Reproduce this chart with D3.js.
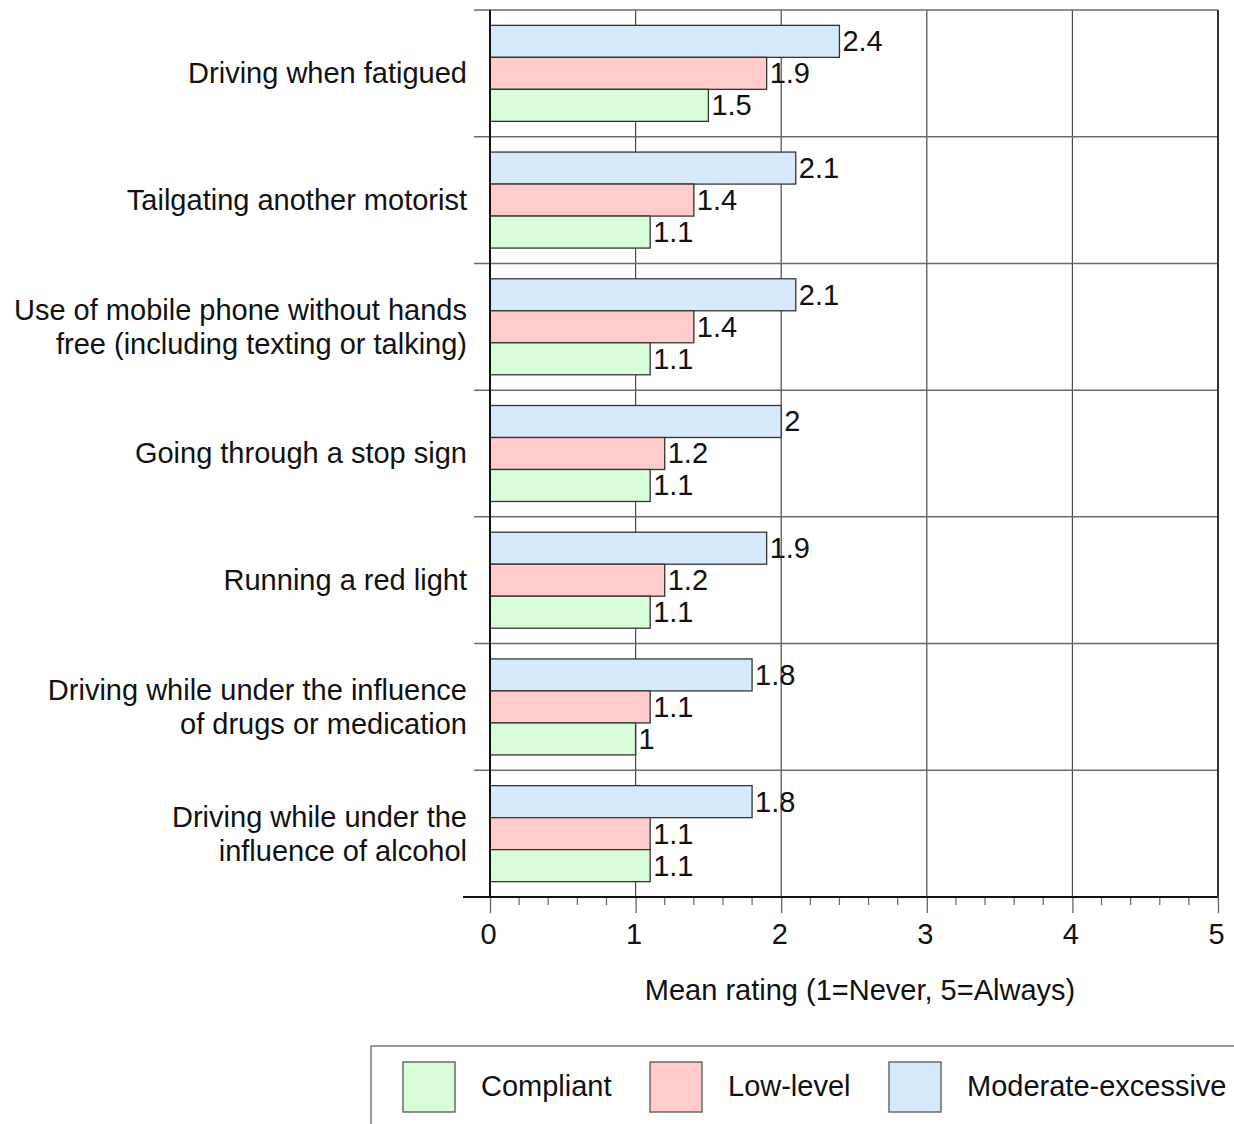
<!DOCTYPE html>
<html>
<head>
<meta charset="utf-8">
<script src="https://cdn.jsdelivr.net/npm/d3@7"></script>
<style>
  html, body { margin: 0; padding: 0; background: #fff; }
  svg { display: block; font-family: "Liberation Sans", Arial, sans-serif; }
</style>
</head>
<body>
<svg id="chart" width="1234" height="1124"></svg>
<script>
// Behaviours, top to bottom; each entry is a list of label lines
const categories = [
  ["Driving when fatigued"],
  ["Tailgating another motorist"],
  ["Use of mobile phone without hands", "free (including texting or talking)"],
  ["Going through a stop sign"],
  ["Running a red light"],
  ["Driving while under the influence", "of drugs or medication"],
  ["Driving while under the", "influence of alcohol"]
];
const seriesNames = ["Moderate-excessive", "Low-level", "Compliant"];
const moderateExcessive = [2.4, 2.1, 2.1, 2, 1.9, 1.8, 1.8];
const lowLevel          = [1.9, 1.4, 1.4, 1.2, 1.2, 1.1, 1.1];
const compliant         = [1.5, 1.1, 1.1, 1.1, 1.1, 1, 1.1];
const xTicks = [0, 1, 2, 3, 4, 5];
const legendOrder = ["Compliant", "Low-level", "Moderate-excessive"];
const colors = {
  "Moderate-excessive": "#d7eafd",
  "Low-level": "#ffcbcb",
  "Compliant": "#d8fdd8"
};
const seriesValues = {
  "Moderate-excessive": moderateExcessive,
  "Low-level": lowLevel,
  "Compliant": compliant
};

const FONT = 29;
const svg = d3.select("#chart");
const plotLeft = 490, plotRight = 1218, plotTop = 10, plotBottom = 897;

const x = d3.scaleLinear().domain([0, 5]).range([plotLeft, plotRight]);
const y = d3.scaleBand().domain(d3.range(categories.length)).range([plotTop, plotBottom]);
const inner = d3.scaleBand().domain(seriesNames)
  .range([0, y.bandwidth()]).paddingOuter(0.48).paddingInner(0);

// Vertical gridlines
svg.append("g").selectAll("line").data(xTicks.slice(1)).join("line")
  .attr("x1", d => x(d)).attr("x2", d => x(d))
  .attr("y1", plotTop).attr("y2", plotBottom)
  .attr("stroke", "#4a4a4a").attr("stroke-width", 1.2);

// Category separators (incl. top border) with small left ticks
const bounds = d3.range(categories.length).map(i => y(i));
svg.append("g").selectAll("line").data(bounds).join("line")
  .attr("x1", plotLeft - 16).attr("x2", plotRight)
  .attr("y1", d => d).attr("y2", d => d)
  .attr("stroke", "#6a6a6a").attr("stroke-width", 1.5);

// Bars
const groups = svg.append("g").selectAll("g").data(categories).join("g")
  .attr("transform", (d, i) => `translate(0,${y(i)})`);

seriesNames.forEach(s => {
  groups.append("rect")
    .attr("x", x(0))
    .attr("y", inner(s))
    .attr("width", (d, i) => x(seriesValues[s][i]) - x(0))
    .attr("height", inner.bandwidth())
    .attr("fill", colors[s])
    .attr("stroke", "#333")
    .attr("stroke-width", 1.3);
  groups.append("text")
    .attr("x", (d, i) => x(seriesValues[s][i]) + 3)
    .attr("y", inner(s) + inner.bandwidth() / 2 + 10)
    .attr("font-size", FONT)
    .attr("fill", "#111")
    .text((d, i) => seriesValues[s][i]);
});

// Category labels
groups.each(function(lines) {
  const g = d3.select(this);
  const lh = 34;
  const cy = y.bandwidth() / 2 - (lines.length - 1) * lh / 2;
  lines.forEach((ln, k) => {
    g.append("text")
      .attr("x", 467)
      .attr("y", cy + k * lh + 10)
      .attr("text-anchor", "end")
      .attr("font-size", FONT)
      .attr("fill", "#111")
      .text(ln);
  });
});

// Left axis line
svg.append("line")
  .attr("x1", plotLeft).attr("x2", plotLeft).attr("y1", plotTop).attr("y2", plotBottom)
  .attr("stroke", "#111").attr("stroke-width", 2);

// Bottom axis with minor ticks
const minor = d3.range(0, 5.0001, 0.2).filter(v => Math.abs(v - Math.round(v)) > 1e-6);
svg.append("g").selectAll("line").data(minor).join("line")
  .attr("x1", d => x(d)).attr("x2", d => x(d))
  .attr("y1", plotBottom).attr("y2", plotBottom + 8)
  .attr("stroke", "#666").attr("stroke-width", 1.2);

const axis = d3.axisBottom(x).tickValues(xTicks).tickSize(16).tickPadding(10)
  .tickFormat(d3.format("d"));
const ax = svg.append("g").attr("transform", `translate(0,${plotBottom})`).call(axis);
ax.select(".domain").remove();
ax.selectAll(".tick line").attr("stroke", "#666").attr("stroke-width", 1.3);
ax.selectAll(".tick text").attr("font-size", FONT).attr("fill", "#111")
  .attr("font-family", "Liberation Sans, Arial, sans-serif")
  .attr("dx", -2);
svg.append("line")
  .attr("x1", plotLeft - 27).attr("x2", plotRight).attr("y1", plotBottom).attr("y2", plotBottom)
  .attr("stroke", "#111").attr("stroke-width", 2);
svg.append("line")
  .attr("x1", plotRight).attr("x2", plotRight).attr("y1", plotTop).attr("y2", plotBottom)
  .attr("stroke", "#333").attr("stroke-width", 2);

// Axis title
svg.append("text")
  .attr("x", (plotLeft + plotRight) / 2 + 6)
  .attr("y", 1000)
  .attr("text-anchor", "middle")
  .attr("font-size", FONT)
  .attr("fill", "#111")
  .text("Mean rating (1=Never, 5=Always)");

// Legend
const lg = svg.append("g");
lg.append("rect")
  .attr("x", 371).attr("y", 1046).attr("width", 900).attr("height", 120)
  .attr("fill", "#fff").attr("stroke", "#777").attr("stroke-width", 1.5);
const legendX = [403, 650, 889];
legendOrder.forEach((s, i) => {
  lg.append("rect")
    .attr("x", legendX[i]).attr("y", 1062).attr("width", 52).attr("height", 50)
    .attr("fill", colors[s]).attr("stroke", "#555").attr("stroke-width", 1.3);
  lg.append("text")
    .attr("x", legendX[i] + 78).attr("y", 1096)
    .attr("font-size", FONT).attr("fill", "#111")
    .text(s);
});
</script>
</body>
</html>
